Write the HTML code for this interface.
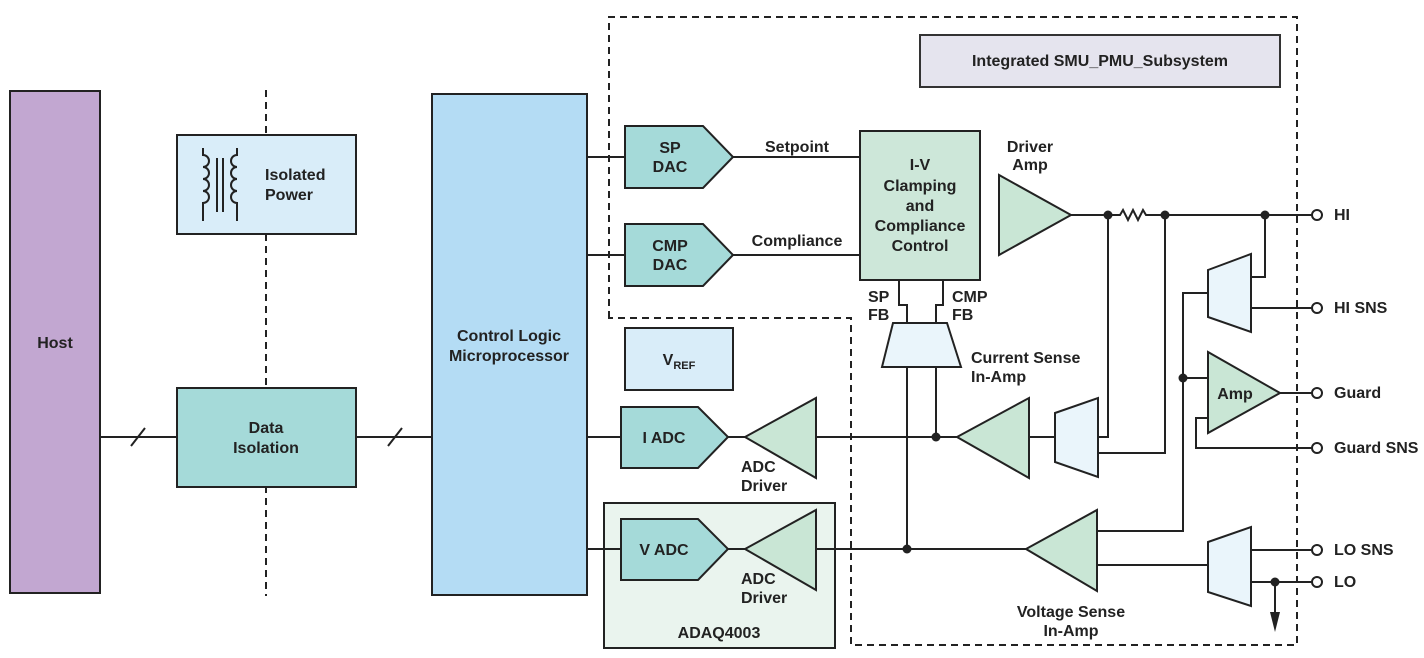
<!DOCTYPE html>
<html><head><meta charset="utf-8"><style>
html,body{margin:0;padding:0;background:#fff}
svg{display:block}
text{font-family:"Liberation Sans",sans-serif;font-weight:bold;font-size:16px;fill:#222}
</style></head><body>
<svg width="1424" height="658" viewBox="0 0 1424 658" xmlns="http://www.w3.org/2000/svg">
<g stroke="#222" stroke-width="2" fill="none">
<path d="M609 318 V17 H1297 V645 H851 V318 Z" stroke-dasharray="7,5"/>
<line x1="266" y1="90" x2="266" y2="596" stroke-dasharray="7,5"/>
</g>
<g stroke="#222" stroke-width="2">
<rect x="10" y="91" width="90" height="502" fill="#c2a7d1"/>
<rect x="177" y="135" width="179" height="99" fill="#d9edf9"/>
<rect x="177" y="388" width="179" height="99" fill="#a5dad9"/>
<rect x="432" y="94" width="155" height="501" fill="#b4dcf4"/>
<rect x="920" y="35" width="360" height="52" fill="#e5e4ee" stroke="#333"/>
<rect x="625" y="328" width="108" height="62" fill="#d9edf9"/>
<rect x="604" y="503" width="231" height="145" fill="#eaf4ee"/>
<rect x="860" y="131" width="120" height="149" fill="#cde7d9"/>
</g>
<g stroke="#222" stroke-width="2" fill="none">
<path d="M203 148 V155 A6 6 0 0 1 203 167 A6 6 0 0 1 203 179 A6 6 0 0 1 203 191 A6 6 0 0 1 203 203 V221"/>
<path d="M237 148 V155 A6 6 0 0 0 237 167 A6 6 0 0 0 237 179 A6 6 0 0 0 237 191 A6 6 0 0 0 237 203 V221"/>
<line x1="217" y1="158" x2="217" y2="212"/><line x1="223" y1="158" x2="223" y2="212"/>
</g>
<g stroke="#222" stroke-width="2" fill="none">
<line x1="100" y1="437" x2="177" y2="437"/><line x1="131" y1="446" x2="145" y2="428"/>
<line x1="356" y1="437" x2="432" y2="437"/><line x1="388" y1="446" x2="402" y2="428"/>
<line x1="587" y1="157" x2="625" y2="157"/><line x1="587" y1="255" x2="625" y2="255"/>
<line x1="587" y1="437" x2="621" y2="437"/><line x1="587" y1="549" x2="621" y2="549"/>
<line x1="733" y1="157" x2="860" y2="157"/><line x1="733" y1="255" x2="860" y2="255"/>
<line x1="728" y1="437" x2="745" y2="437"/><line x1="728" y1="549" x2="745" y2="549"/>
<line x1="816" y1="437" x2="957" y2="437"/><line x1="816" y1="549" x2="1026" y2="549"/>
<path d="M899 280 V305 H907 V323"/><path d="M943 280 V305 H936 V323"/>
<line x1="907" y1="366" x2="907" y2="549"/><line x1="936" y1="366" x2="936" y2="437"/>
<line x1="1029" y1="437" x2="1055" y2="437"/>
<path d="M1071 215 H1120 l3 -5 l5 10 l5 -10 l5 10 l5 -10 l3 5 H1317"/>
<path d="M1098 437 H1108 V215"/><path d="M1098 453 H1165 V215"/>
<path d="M1251 277 H1265 V215"/><line x1="1251" y1="308" x2="1317" y2="308"/>
<path d="M1097 531 H1183 V293 H1208"/><line x1="1183" y1="378" x2="1208" y2="378"/>
<path d="M1208 418 H1196 V448 H1317"/><line x1="1280" y1="393" x2="1317" y2="393"/>
<line x1="1097" y1="565" x2="1208" y2="565"/>
<line x1="1251" y1="550" x2="1317" y2="550"/><line x1="1251" y1="582" x2="1317" y2="582"/>
<line x1="1275" y1="582" x2="1275" y2="615"/>
</g>
<polygon points="1270,612 1280,612 1275,632" fill="#222"/>
<g fill="#222">
<circle cx="1108" cy="215" r="4.5"/><circle cx="1165" cy="215" r="4.5"/><circle cx="1265" cy="215" r="4.5"/>
<circle cx="936" cy="437" r="4.5"/><circle cx="907" cy="549" r="4.5"/><circle cx="1183" cy="378" r="4.5"/>
<circle cx="1275" cy="582" r="4.5"/>
</g>
<g fill="#fff" stroke="#222" stroke-width="2">
<circle cx="1317" cy="215" r="5"/><circle cx="1317" cy="308" r="5"/><circle cx="1317" cy="393" r="5"/>
<circle cx="1317" cy="448" r="5"/><circle cx="1317" cy="550" r="5"/><circle cx="1317" cy="582" r="5"/>
</g>
<g fill="#a5dad9" stroke="#222" stroke-width="2">
<polygon points="625,126 703,126 733,157 703,188 625,188"/>
<polygon points="625,224 703,224 733,255 703,286 625,286"/>
<polygon points="621,407 698,407 728,437 698,468 621,468"/>
<polygon points="621,519 698,519 728,549 698,580 621,580"/>
</g>
<g fill="#c9e6d5" stroke="#222" stroke-width="2">
<polygon points="816,398 816,478 745,437"/>
<polygon points="816,510 816,590 745,549"/>
<polygon points="999,175 999,255 1071,215"/>
<polygon points="1029,398 1029,478 957,437"/>
<polygon points="1097,510 1097,591 1026,549"/>
<polygon points="1208,352 1208,433 1280,393"/>
</g>
<g fill="#eaf5fb" stroke="#222" stroke-width="2">
<polygon points="893,323 947,323 961,367 882,367"/>
<polygon points="1055,413 1098,398 1098,477 1055,462"/>
<polygon points="1208,270 1251,254 1251,332 1208,317"/>
<polygon points="1208,542 1251,527 1251,606 1208,592"/>
</g>
<text x="55" y="348" text-anchor="middle">Host</text>
<text x="265" y="180">Isolated</text><text x="265" y="200">Power</text>
<text x="266" y="433" text-anchor="middle">Data</text><text x="266" y="453" text-anchor="middle">Isolation</text>
<text x="509" y="341" text-anchor="middle">Control Logic</text><text x="509" y="361" text-anchor="middle">Microprocessor</text>
<text x="1100" y="66" text-anchor="middle">Integrated SMU_PMU_Subsystem</text>
<text x="670" y="153" text-anchor="middle">SP</text><text x="670" y="172" text-anchor="middle">DAC</text>
<text x="670" y="251" text-anchor="middle">CMP</text><text x="670" y="270" text-anchor="middle">DAC</text>
<text x="797" y="152" text-anchor="middle">Setpoint</text>
<text x="797" y="246" text-anchor="middle">Compliance</text>
<text x="920" y="170" text-anchor="middle">I-V</text><text x="920" y="191" text-anchor="middle">Clamping</text>
<text x="920" y="211" text-anchor="middle">and</text><text x="920" y="231" text-anchor="middle">Compliance</text>
<text x="920" y="251" text-anchor="middle">Control</text>
<text x="1030" y="152" text-anchor="middle">Driver</text><text x="1030" y="170" text-anchor="middle">Amp</text>
<text x="868" y="302">SP</text><text x="868" y="320">FB</text>
<text x="952" y="302">CMP</text><text x="952" y="320">FB</text>
<text x="971" y="363">Current Sense</text><text x="971" y="382">In-Amp</text>
<text x="679" y="365" text-anchor="middle">V<tspan font-size="11" dy="4">REF</tspan></text>
<text x="664" y="443" text-anchor="middle">I ADC</text>
<text x="664" y="555" text-anchor="middle">V ADC</text>
<text x="741" y="472">ADC</text><text x="741" y="491">Driver</text>
<text x="741" y="584">ADC</text><text x="741" y="603">Driver</text>
<text x="719" y="638" text-anchor="middle" font-size="17.5">ADAQ4003</text>
<text x="1235" y="399" text-anchor="middle">Amp</text>
<text x="1071" y="617" text-anchor="middle">Voltage Sense</text><text x="1071" y="636" text-anchor="middle">In-Amp</text>
<text x="1334" y="220">HI</text><text x="1334" y="313">HI SNS</text>
<text x="1334" y="398">Guard</text><text x="1334" y="453">Guard SNS</text>
<text x="1334" y="555">LO SNS</text><text x="1334" y="587">LO</text>
</svg>
</body></html>
